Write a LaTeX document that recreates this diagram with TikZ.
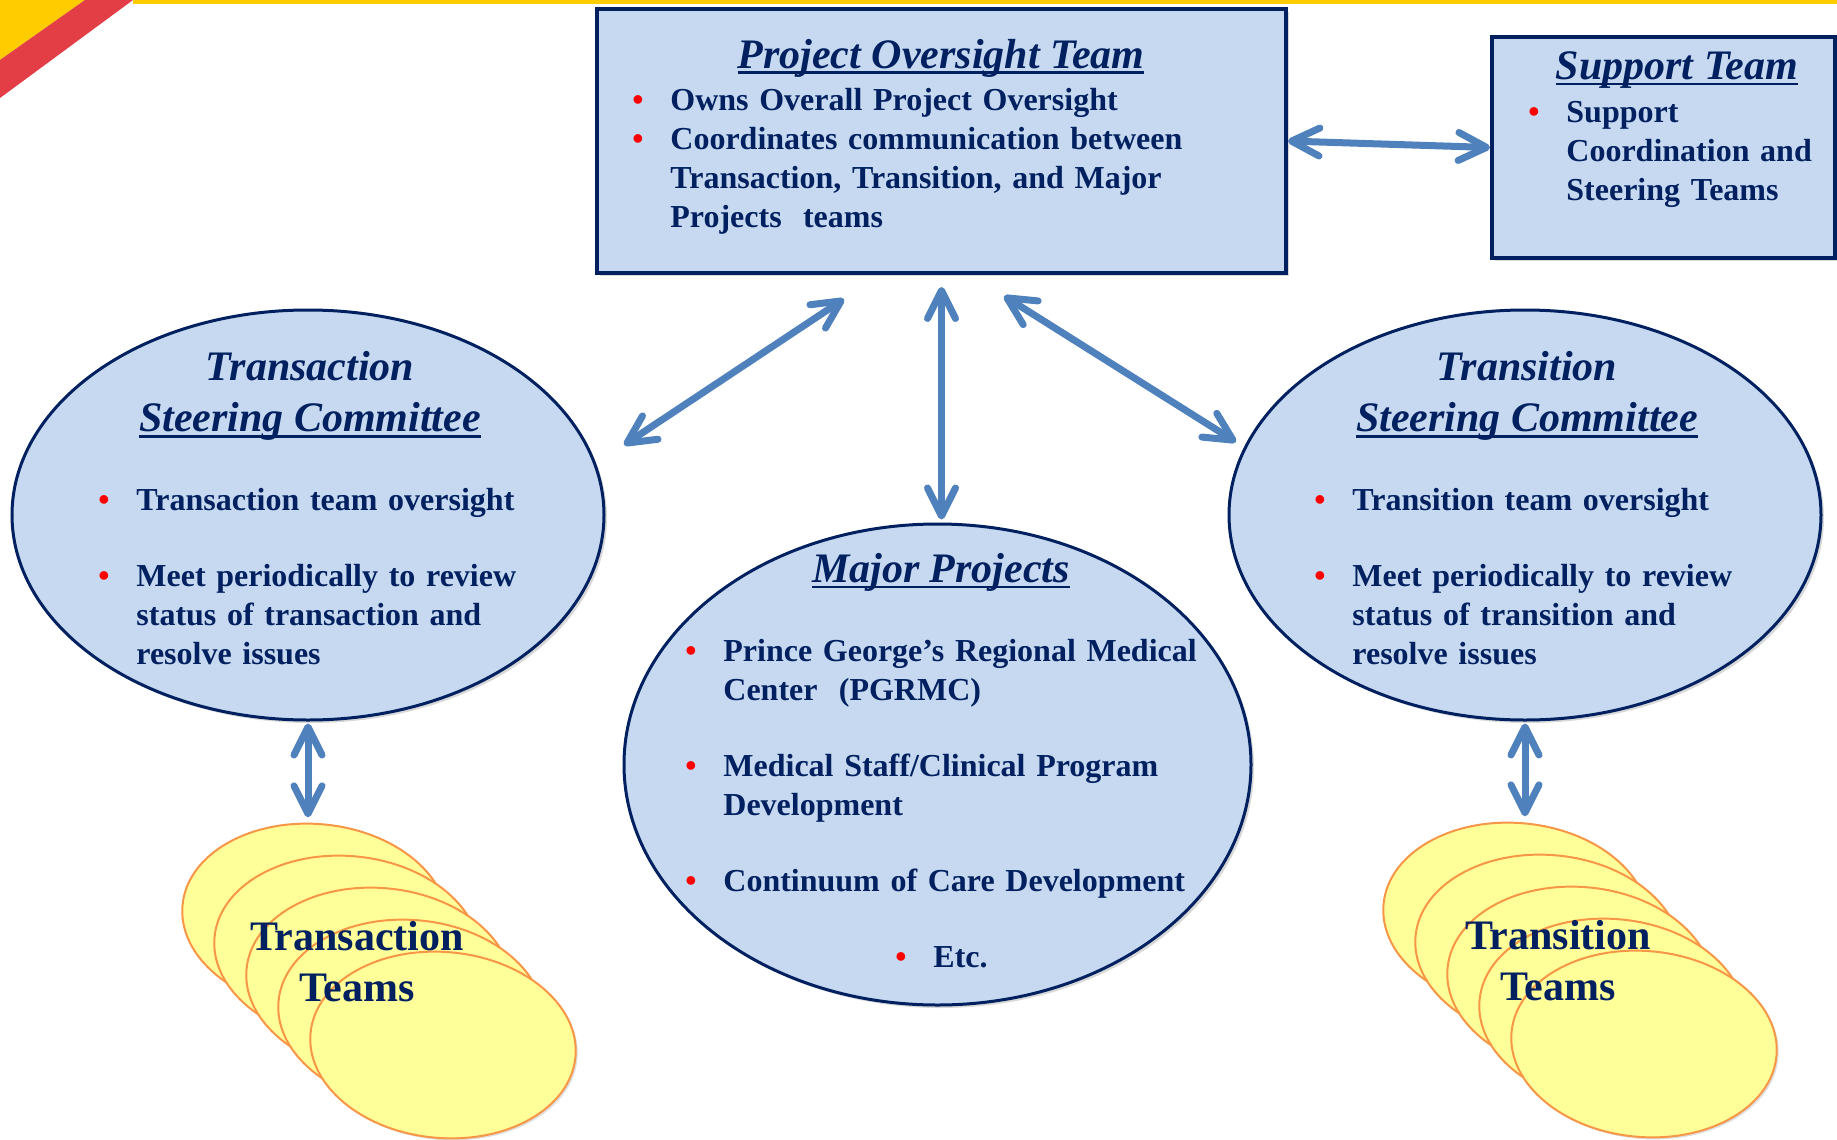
\documentclass[tikz,border=0pt]{standalone}
\usepackage{fontspec}
\setmainfont{Liberation Serif}
\usetikzlibrary{arrows.meta,shapes.geometric,shadows}
\definecolor{navy}{HTML}{002060}
\definecolor{boxblue}{HTML}{C6D9F1}
\definecolor{linkblue}{HTML}{4F81BD}
\definecolor{teamyellow}{HTML}{FFFF99}
\definecolor{teamorange}{HTML}{F79646}
\definecolor{bulred}{HTML}{FF0000}
\definecolor{bandyellow}{HTML}{FFCC00}
\definecolor{bandred}{HTML}{E33E46}
\newlength\bulind \setlength\bulind{19pt}
\newcommand\redbul{\textcolor{bulred}{\textbullet}}
\newcommand\bitem[1]{\par\noindent\hangindent=\bulind\hangafter=1\makebox[\bulind][l]{\redbul}#1\par}
\newcommand\bgap{\vspace{18.5pt}}
\newcommand\undl[1]{\setbox0\hbox{#1}\rlap{\rule[-3pt]{\wd0}{1.3pt}}\box0}
\newcommand\headfont{\fontsize{21}{25.5}\selectfont\bfseries\itshape}
\newcommand\bodyfont{\fontsize{16}{19.5}\selectfont\bfseries}
\begin{document}
\begin{tikzpicture}[x=0.5pt, y=-0.5pt,
  box/.style={draw=navy, line width=2pt, fill=boxblue, inner sep=0pt,
    drop shadow={opacity=.3, shadow xshift=1.5pt, shadow yshift=-1.5pt}},
  oval/.style={ellipse, draw=navy, line width=1.5pt, fill=boxblue, inner sep=0pt,
    drop shadow={opacity=.3, shadow xshift=1.5pt, shadow yshift=-1.5pt}},
  team/.style={ellipse, draw=teamorange, line width=1pt, fill=teamyellow,
    minimum width=133pt, minimum height=93pt, inner sep=0pt, rotate=-5,
    drop shadow={opacity=.25, shadow xshift=1pt, shadow yshift=-1pt}},
  head/.style={text=navy, font=\headfont, align=center},
  body/.style={text=navy, font=\bodyfont, text width=250pt, align=left,
    anchor=north west, inner sep=0pt},
  teamlbl/.style={text=navy, font=\fontsize{21}{25.5}\selectfont\bfseries,
    align=center},
  link/.style={draw=linkblue, line width=3.5pt,
    {Straight Barb[length=14pt,width=14pt,round]}-{Straight Barb[length=14pt,width=14pt,round]}}]
  \fill[white] (0,0) rectangle (1837,1140);
  \useasboundingbox (0,0) rectangle (1837,1140);
  % corner band
  \fill[bandyellow] (0,0) -- (85,0) -- (0,60) -- cycle;
  \fill[bandred] (85,0) -- (133,0) -- (0,98) -- (0,60) -- cycle;
  \fill[bandyellow] (133,0) rectangle (1837,3.5);

  % team stacks
  \foreach \i in {0,...,4}
    \node[team] (ltt\i) at ({315+32*\i},{917+32*\i}) {};
  \foreach \i in {0,...,4}
    \node[team] (rtt\i) at ({1516+32*\i},{916+32*\i}) {};
  \node[teamlbl] (ltt-lbl) at (357,962) {Transaction\\Teams};
  \node[teamlbl] (rtt-lbl) at (1558,961) {Transition\\Teams};

  % main shapes
  \node[box, minimum width=344.5pt, minimum height=132pt] (pot) at (941.5,141) {};
  \node[box, minimum width=171.5pt, minimum height=110.5pt] (sup) at (1663.5,147.5) {};
  \node[oval, minimum width=296pt, minimum height=205pt] (tsc) at (308,515) {};
  \node[oval, minimum width=296pt, minimum height=205pt] (trsc) at (1525,515) {};
  \node[oval, minimum width=313.5pt, minimum height=240.5pt] (mp) at (937.5,764.5) {};

  \node[head] (pot-t) at (941,58) {\undl{Project Oversight Team}};
  \node[head] (sup-t) at (1677,70) {\undl{Support Team}};
  \node[head] (tsc-t) at (310,396) {Transaction\\\undl{Steering Committee}};
  \node[head] (trsc-t) at (1527,396) {Transition\\\undl{Steering Committee}};
  \node[head] (mp-t) at (941,572) {\undl{Major Projects}};

  \node[body, text width=290pt] (pot-b) at (632,71)
    {\bitem{Owns Overall Project Oversight}
     \bitem{Coordinates communication between\newline Transaction, Transition, and Major\newline Projects~ teams}};
  \node[body, text width=160pt] (sup-b) at (1528,83)
    {\bitem{Support\newline Coordination and\newline Steering Teams}};
  \node[body] (tsc-b) at (98,471)
    {\bitem{Transaction team oversight}\bgap
     \bitem{Meet periodically to review\newline status of transaction and\newline resolve issues}};
  \node[body] (trsc-b) at (1314,471)
    {\bitem{Transition team oversight}\bgap
     \bitem{Meet periodically to review\newline status of transition and\newline resolve issues}};
  \node[body, text width=300pt] (mp-b) at (685,622)
    {\bitem{Prince George’s Regional Medical\newline Center~ (PGRMC)}\bgap
     \bitem{Medical Staff/Clinical Program\newline Development}\bgap
     \bitem{Continuum of Care Development}\bgap
     \noindent\hspace*{105pt}\makebox[\bulind][l]{\redbul}Etc.\par};

  % connectors
  \coordinate (tsc-in) at (624,445);
  \coordinate (pot-l) at (844,299);
  \coordinate (pot-r) at (1004,296);
  \coordinate (trsc-in) at (1236,442);
  \draw[link] (tsc-in) -- (pot-l);
  \draw[link] (trsc-in) -- (pot-r);
  \draw[link] ([yshift=-6pt]pot.south) -- ([yshift=1.5pt]pot.south |- mp.north);
  \draw[link] (pot.east) -- (sup.west);
  \draw[link] ([yshift=-1pt]tsc.south) -- ([yshift=3pt]tsc.south |- ltt0.north);
  \draw[link] ([yshift=-1pt]trsc.south) -- ([yshift=3pt]trsc.south |- rtt0.north);
\end{tikzpicture}
\end{document}
